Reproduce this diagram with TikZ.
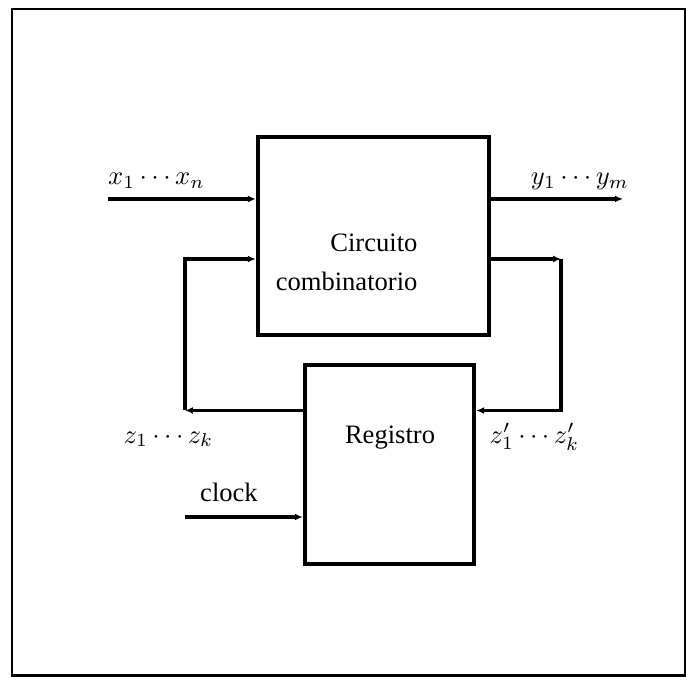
\documentclass[tikz,border=0pt]{standalone}
\usepackage{fontspec}
\setmainfont{Liberation Serif}
\usepackage{tikz}
\usetikzlibrary{arrows.meta, positioning, calc}

\begin{document}
\begin{tikzpicture}[
    blok/.style={rectangle, draw=black, line width=1.6pt, inner sep=0pt},
    wirearr/.style={line width=1.25pt, -{Latex[length=3pt,width=2.6pt]}},
    lbl/.style={anchor=base, inner sep=0pt, font=\normalsize},
  ]
    \useasboundingbox (0,0) rectangle (9.074,8.955);
    \draw[line width=0.9pt] (0.159,0.02) rectangle (9.06,8.836);

    % bloques
    \node[blok, minimum width=3.055cm, minimum height=2.619cm] (cc) at (4.940,5.833) {};
    \node[blok, minimum width=2.236cm, minimum height=2.632cm] (reg) at (5.152,2.811) {};

    \node[anchor=base east, inner sep=0pt] (cctop) at (5.529,5.622) {Circuito};
    \node[anchor=base east, inner sep=0pt] (ccbot) at (5.529,5.106) {combinatorio};
    \node[lbl] (regtxt) at (5.159,3.082) {Registro};

    % puntos de paso
    \coordinate (xin)  at (1.429,6.323);
    \coordinate (yout) at (8.241,6.323);
    \coordinate (fbl)  at (2.447,5.529);
    \coordinate (fbr)  at (7.421,5.529);
    \coordinate (zl)   at (2.447,3.525);
    \coordinate (zr)   at (7.421,3.525);
    \coordinate (clk)  at (2.447,2.116);

    % conexiones
    \draw[wirearr] (xin) -- (xin -| cc.west);
    \draw[wirearr] (yout -| cc.east) -- (yout);
    \draw[wirearr] (zl -| reg.west) -- (zl);
    \draw[wirearr] (zl) -- (fbl) -- (fbl -| cc.west);
    \draw[wirearr] (fbr -| cc.east) -- (fbr);
    \draw[wirearr] (fbr) -- (zr) -- (zr -| reg.east);
    \draw[wirearr] (clk) -- (clk -| reg.west);

    % etiquetas
    \node[lbl] (xlab) at (2.070,6.508) {$x_1\cdots x_n$};
    \node[lbl] (ylab) at (7.672,6.508) {$y_1\cdots y_m$};
    \node[lbl] (zlab) at (2.229,3.095) {$z_1\cdots z_k$};
    \node[lbl] (zplab) at (7.070,3.095) {$z'_1\cdots z'_k$};
    \node[lbl] (clab) at (3.029,2.315) {clock};
  \end{tikzpicture}
\end{document}
